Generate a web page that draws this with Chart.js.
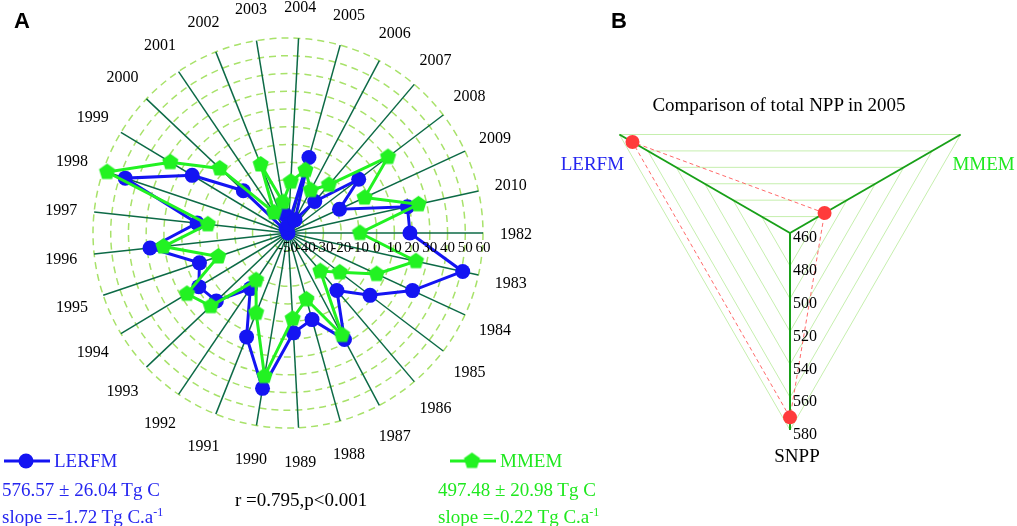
<!DOCTYPE html>
<html>
<head>
<meta charset="utf-8">
<script src="https://cdn.jsdelivr.net/npm/chart.js@4.4.1/dist/chart.umd.min.js"></script>
<style>
  html, body { margin: 0; padding: 0; background: #fff; }
  body { width: 1017px; height: 526px; position: relative; overflow: hidden;
         font-family: "Liberation Serif", "Times New Roman", serif; }
  canvas { position: absolute; top: 0; }
  #chartA { left: 0; }
  #chartB { left: 560px; }
  .txt { position: absolute; font-size: 19px; line-height: 19px; white-space: nowrap; color: #000; }
  .panel { position: absolute; font-family: "Liberation Sans", Arial, sans-serif; font-weight: bold;
           font-size: 22px; line-height: 22px; }
  .blue { color: #2626f0; }
  .green { color: #1fe81f; }
  sup { font-size: 12px; line-height: 0; vertical-align: 7px; }
</style>
</head>
<body>
<canvas id="chartA" width="580" height="526"></canvas>
<canvas id="chartB" width="457" height="526"></canvas>

<div class="panel" style="left:14px; top:10px;">A</div>
<div class="panel" style="left:611px; top:10px;">B</div>

<div class="txt blue" style="left:54px; top:451px;">LERFM</div>
<div class="txt blue" style="left:2px; top:480px;">576.57 ± 26.04 Tg C</div>
<div class="txt blue" style="left:2px; top:507px;">slope =-1.72 Tg C.a<sup>-1</sup></div>
<div class="txt" style="left:235px; top:490px;">r =0.795,p&lt;0.001</div>
<div class="txt green" style="left:500px; top:451px;">MMEM</div>
<div class="txt green" style="left:438px; top:480px;">497.48 ± 20.98 Tg C</div>
<div class="txt green" style="left:438px; top:507px;">slope =-0.22 Tg C.a<sup>-1</sup></div>

<div class="txt" style="left:579px; top:95px; width:400px; text-align:center;">Comparison of total NPP in 2005</div>

<script>
// anomalies (Tg C) per year
const years = ["1982", "1983", "1984", "1985", "1986", "1987", "1988", "1989", "1990", "1991",
  "1992", "1993", "1994", "1995", "1996", "1997", "1998", "1999", "2000", "2001",
  "2002", "2003", "2004", "2005", "2006", "2007", "2008", "2009", "2010"];
const lerfm = [18.8, 50.9, 27.4, 8.1, -7.4, 18.0, 0.7, 6.4, 38.8, 13.1,
  -12.1, 5.7, 8.7, 2.7, 28.3, 1.6, 46.9, 13.1, -15.3, -50,
  -47, -39.5, -45, -5.8, -41.6, -26.7, 0.1, -18.0, 19.0];
const mmem = [-9.4, 23.9, 5.1, -13.3, -21.8, 15.1, -11.2, -1.6, 31.8, -1.5,
  -17.9, 10.0, 16.5, -8.5, 20.7, -4.5, 57.7, 27.5, 3.0, -36.0,
  -8.4, -32.3, -21.0, -13.2, -22.6, -14.3, 20.9, -2.4, 25.4];
const ticksA = [-50, -40, -30, -20, -10, 0, 10, 20, 30, 40, 50, 60];

// panel B: total NPP in 2005
const axesB = ["SNPP", "LERFM", "MMEM"];
const npp2005 = [572.3, 570.8, 484.3];
const ticksB = [460, 480, 500, 520, 540, 560, 580];

const BLUE = "#1414f2";
const GREEN = "#22f222";

document.addEventListener("DOMContentLoaded", function () {
  pintarA();
  pintarB();
});

function hacerPentagono(radio, color) {
  const c = document.createElement("canvas");
  const s = Math.ceil(radio * 2 + 2);
  c.width = s;
  c.height = s;
  const g = c.getContext("2d");
  g.fillStyle = color;
  g.beginPath();
  for (let i = 0; i < 5; i++) {
    const a = -Math.PI / 2 + i * 2 * Math.PI / 5;
    const x = s / 2 + radio * Math.cos(a);
    const y = s / 2 + radio * Math.sin(a);
    if (i === 0) g.moveTo(x, y); else g.lineTo(x, y);
  }
  g.closePath();
  g.fill();
  return c;
}

const pentagono = hacerPentagono(8.5, GREEN);

const etiquetasA = {
  id: "etiquetasA",
  afterDraw: function (chart) {
    const ctx = chart.ctx;
    const r = chart.scales.r;
    ctx.save();
    ctx.fillStyle = "#000";
    ctx.textAlign = "center";
    ctx.textBaseline = "middle";

    // year labels round the circle
    ctx.font = '16px "Liberation Serif"';
    for (let i = 0; i < years.length; i++) {
      const p = r.getPointPosition(i, r.drawingArea + 33);
      ctx.fillText(years[i], p.x, p.y + 2);
    }

    // radial tick labels along the 1982 spoke
    ctx.font = '15px "Liberation Serif"';
    for (let i = 0; i < ticksA.length; i++) {
      const p = r.getPointPositionForValue(0, ticksA[i]);
      ctx.fillText(String(ticksA[i]), p.x, p.y + 15);
    }

    // legend samples
    ctx.lineWidth = 3;
    ctx.strokeStyle = BLUE;
    ctx.beginPath();
    ctx.moveTo(4, 461);
    ctx.lineTo(50, 461);
    ctx.stroke();
    ctx.fillStyle = BLUE;
    ctx.beginPath();
    ctx.arc(26, 461, 7.5, 0, Math.PI * 2);
    ctx.fill();

    ctx.strokeStyle = GREEN;
    ctx.beginPath();
    ctx.moveTo(450, 461);
    ctx.lineTo(496, 461);
    ctx.stroke();
    ctx.drawImage(pentagono, 472 - pentagono.width / 2, 461 - pentagono.height / 2);
    ctx.restore();
  }
};

function pintarA() {
  const ctx = document.getElementById("chartA").getContext("2d");
  new Chart(ctx, {
    type: "radar",
    data: {
      labels: years,
      datasets: [{
        label: "LERFM",
        data: lerfm,
        borderColor: BLUE,
        backgroundColor: BLUE,
        pointBackgroundColor: BLUE,
        pointBorderWidth: 0,
        pointRadius: 7.5,
        borderWidth: 3,
        fill: false,
        order: 2
      }, {
        label: "MMEM",
        data: mmem,
        borderColor: GREEN,
        backgroundColor: GREEN,
        pointStyle: pentagono,
        pointRadius: 8,
        borderWidth: 3,
        fill: false,
        order: 1
      }]
    },
    options: {
      responsive: false,
      animation: false,
      devicePixelRatio: 1,
      layout: { padding: { left: 93, top: 38, right: 97, bottom: 98 } },
      plugins: { legend: { display: false }, tooltip: { enabled: false } },
      scales: {
        r: {
          min: -50,
          max: 60,
          startAngle: 90,
          ticks: { display: false, stepSize: 10 },
          pointLabels: { display: false },
          grid: { circular: true, color: "#a8e26a", lineWidth: 1.5 },
          border: { dash: [7, 5] },
          angleLines: { color: "#0c6a46", lineWidth: 1.5 }
        }
      }
    },
    plugins: [etiquetasA]
  });
}

const etiquetasB = {
  id: "etiquetasB",
  afterDraw: function (chart) {
    const ctx = chart.ctx;
    const r = chart.scales.r;
    ctx.save();
    ctx.fillStyle = "#000";
    ctx.textBaseline = "middle";
    ctx.textAlign = "left";
    ctx.font = '16px "Liberation Serif"';
    for (let i = 0; i < ticksB.length; i++) {
      const p = r.getPointPositionForValue(0, ticksB[i]);
      ctx.fillText(String(ticksB[i]), p.x + 3, p.y + 5);
    }

    ctx.textAlign = "center";
    ctx.font = '19px "Liberation Serif"';
    const pS = r.getPointPosition(0, r.drawingArea);
    const pL = r.getPointPosition(1, r.drawingArea);
    const pM = r.getPointPosition(2, r.drawingArea);
    ctx.fillStyle = "#000";
    ctx.fillText(axesB[0], pS.x + 7, pS.y + 27);
    ctx.fillStyle = "#2626f0";
    ctx.fillText(axesB[1], pL.x - 27, pL.y + 31);
    ctx.fillStyle = "#1fe81f";
    ctx.fillText(axesB[2], pM.x + 23, pM.y + 31);
    ctx.restore();
  }
};

function pintarB() {
  const ctx = document.getElementById("chartB").getContext("2d");
  new Chart(ctx, {
    type: "radar",
    data: {
      labels: axesB,
      datasets: [{
        label: "2005",
        data: npp2005,
        borderColor: "rgba(255,90,90,0.9)",
        borderDash: [4, 3],
        borderWidth: 1,
        pointRadius: 7,
        pointBackgroundColor: "#ff3b3b",
        pointBorderWidth: 0,
        fill: false
      }]
    },
    options: {
      responsive: false,
      animation: false,
      devicePixelRatio: 1,
      layout: { padding: { left: 33, top: 36, right: 30, bottom: 96 } },
      plugins: { legend: { display: false }, tooltip: { enabled: false } },
      scales: {
        r: {
          min: 460,
          max: 580,
          startAngle: 180,
          ticks: { display: false, stepSize: 20 },
          pointLabels: { display: false },
          grid: { circular: false, color: "#c6efae", lineWidth: 1 },
          angleLines: { color: "#18a018", lineWidth: 2 }
        }
      }
    },
    plugins: [etiquetasB]
  });
}
</script>
</body>
</html>
